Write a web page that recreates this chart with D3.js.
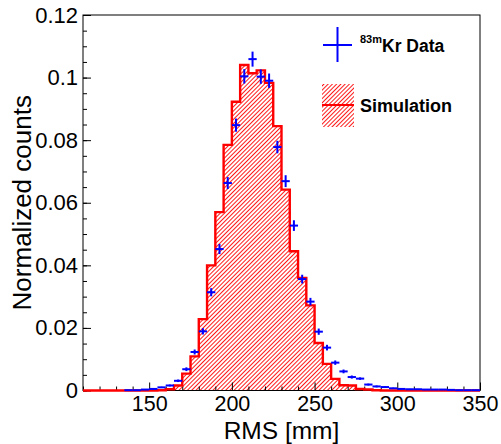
<!DOCTYPE html>
<html>
<head>
<meta charset="utf-8">
<script src="https://cdn.jsdelivr.net/npm/d3@7"></script>
<style>
body { margin: 0; background: #fff; }
text { font-family: "Liberation Sans", Arial, Helvetica, sans-serif; }
</style>
</head>
<body>
<div id="vis"></div>
<script>
// histogram binning (mm)
const binLow = 110, binWidth = 5
// simulation histogram, one value per 5 mm bin starting at 110
const simValues = [
  0, 0, 0, 0, 0, 0, 0, 0,              // 110-145
  0, 0.0001, 0.0004, 0.0016, 0.0054, 0.0109, 0.0228, 0.0400,   // 150-185
  0.0570, 0.0785, 0.0923, 0.1040, 0.1014, 0.1023, 0.0983, 0.0845, // 190-225
  0.0642, 0.0445, 0.0360, 0.0272, 0.0152, 0.0085, 0.0037, 0.0017, // 230-265
  0.0016, 0.0005, 0.0003, 0.0001, 0, 0, 0, 0,  // 270-305
  0, 0, 0, 0, 0, 0, 0, 0                // 310-345
]
// 83mKr data, same binning
const dataValues = [
  0, 0, 0, 0, 0, 0.0001, 0.0001, 0.0003,
  0.0005, 0.0010, 0.0016, 0.0031, 0.0068, 0.0123, 0.0189, 0.0314,
  0.0452, 0.0663, 0.0848, 0.1004, 0.1059, 0.1003, 0.0990, 0.0778,
  0.0669, 0.0527, 0.0356, 0.0284, 0.0188, 0.0137, 0.0089, 0.0061,
  0.0043, 0.0038, 0.0019, 0.0013, 0.0011, 0.0007, 0.0005, 0.0004,
  0.0004, 0.0003, 0.0003, 0.0003, 0.0002, 0.0001, 0.0001, 0.0001
]
const dataErrors = [
  0, 0, 0, 0, 0, 0.0001, 0.0001, 0.0001,
  0.0002, 0.0002, 0.0003, 0.0004, 0.0006, 0.0008, 0.0010, 0.0013,
  0.0016, 0.0019, 0.0021, 0.0023, 0.0024, 0.0023, 0.0023, 0.0020,
  0.0019, 0.0017, 0.0014, 0.0012, 0.0010, 0.0009, 0.0007, 0.0006,
  0.0005, 0.0004, 0.0003, 0.0003, 0.0002, 0.0002, 0.0002, 0.0001,
  0.0001, 0.0001, 0.0001, 0.0001, 0.0001, 0.0001, 0.0001, 0.0001
]
const xMajorTicks = [150, 200, 250, 300, 350]
const yMajorTicks = [0, 0.02, 0.04, 0.06, 0.08, 0.1, 0.12]
const yTickLabels = ['0', '0.02', '0.04', '0.06', '0.08', '0.1', '0.12']

const W = 501, H = 444
const frame = {left: 83, right: 480, top: 15, bottom: 390.5}
const histRed = '#ff0000', dataBlue = '#0000ff'

let svg = d3.select('#vis').append('svg')
    .attr('width', W)
    .attr('height', H)

let x = d3.scaleLinear().domain([110, 350]).range([frame.left, frame.right])
let y = d3.scaleLinear().domain([0, 0.12]).range([frame.bottom, frame.top])

// hatch pattern like ROOT fill style 3004
let defs = svg.append('defs')
let pat = defs.append('pattern')
    .attr('id', 'hatch')
    .attr('patternUnits', 'userSpaceOnUse')
    .attr('width', 3).attr('height', 3)
    .attr('patternTransform', 'rotate(45)')
pat.append('rect')
    .attr('x', 0).attr('y', 0).attr('width', 0.9).attr('height', 3)
    .style('fill', histRed)

// simulation histogram
let simPoints = simValues.map((v, i) => [binLow + i * binWidth, v])
simPoints.push([binLow + simValues.length * binWidth, simValues[simValues.length - 1]])

let area = d3.area()
    .x(d => x(d[0]))
    .y0(y(0))
    .y1(d => y(d[1]))
    .curve(d3.curveStepAfter)

svg.append('path')
    .datum(simPoints)
    .attr('d', area)
    .style('fill', 'url(#hatch)')

// axes with inward ticks
let gx = svg.append('g').attr('transform', `translate(0,${frame.bottom})`)
gx.call(d3.axisBottom(x).tickValues(d3.range(110, 351, 10).filter(v => v % 50 != 0))
    .tickSizeInner(-4).tickSizeOuter(0).tickFormat(''))
let gx2 = svg.append('g').attr('transform', `translate(0,${frame.bottom})`)
gx2.call(d3.axisBottom(x).tickValues(xMajorTicks)
    .tickSizeInner(-8).tickSizeOuter(0).tickPadding(5).tickFormat(d3.format('d')))
gx2.selectAll('text').attr('font-size', 21.5).attr('fill', '#000')

let gy = svg.append('g').attr('transform', `translate(${frame.left},0)`)
gy.call(d3.axisLeft(y).tickValues(d3.range(0, 0.1201, 0.005))
    .tickSizeInner(-4).tickSizeOuter(0).tickFormat(''))
let gy2 = svg.append('g').attr('transform', `translate(${frame.left},0)`)
gy2.call(d3.axisLeft(y).tickValues(yMajorTicks)
    .tickSizeInner(-8).tickSizeOuter(0).tickPadding(5)
    .tickFormat((d, i) => yTickLabels[i]))
gy2.selectAll('text').attr('font-size', 22).attr('fill', '#000')

svg.selectAll('.domain').remove()
svg.selectAll('.tick line').attr('stroke', '#000').attr('stroke-width', 1)

// frame
svg.append('rect')
    .attr('x', frame.left).attr('y', frame.top)
    .attr('width', frame.right - frame.left)
    .attr('height', frame.bottom - frame.top)
    .attr('fill', 'none')
    .attr('stroke', '#000')
    .attr('stroke-width', 1)

// histogram outline
let outline = d3.line()
    .x(d => x(d[0]))
    .y(d => y(d[1]))
    .curve(d3.curveStepAfter)
let outlinePts = [[110, 0]].concat(simPoints)
svg.append('path')
    .datum(outlinePts)
    .attr('d', outline)
    .attr('fill', 'none')
    .attr('stroke', histRed)
    .attr('stroke-width', 2.4)

// data points with error bars
let dataPts = dataValues.map((v, i) => ({
    c: binLow + (i + 0.5) * binWidth, v: v, e: dataErrors[i]
})).filter(d => d.v > 0)

let pts = svg.append('g').selectAll('g').data(dataPts).join('g')
pts.append('line')
    .attr('x1', d => x(d.c - binWidth / 2)).attr('x2', d => x(d.c + binWidth / 2))
    .attr('y1', d => y(d.v)).attr('y2', d => y(d.v))
    .attr('stroke', dataBlue).attr('stroke-width', 2)
pts.append('line')
    .attr('x1', d => x(d.c)).attr('x2', d => x(d.c))
    .attr('y1', d => y(d.v - d.e)).attr('y2', d => y(d.v + d.e))
    .attr('stroke', dataBlue).attr('stroke-width', 2)

// axis titles
svg.append('text')
    .attr('x', (frame.left + frame.right) / 2).attr('y', 438.5)
    .attr('text-anchor', 'middle')
    .attr('font-size', 24.5)
    .text('RMS [mm]')

svg.append('text')
    .attr('transform', `translate(31,${(frame.top + frame.bottom) / 2}) rotate(-90)`)
    .attr('text-anchor', 'middle')
    .attr('font-size', 26)
    .text('Normalized counts')

// legend
let leg = svg.append('g')
leg.append('line').attr('x1', 323).attr('x2', 352).attr('y1', 45).attr('y2', 45)
    .attr('stroke', dataBlue).attr('stroke-width', 2)
leg.append('line').attr('x1', 337.5).attr('x2', 337.5).attr('y1', 27).attr('y2', 62)
    .attr('stroke', dataBlue).attr('stroke-width', 2)
let t1 = leg.append('text').attr('x', 360).attr('y', 52)
    .attr('font-weight', 'bold').attr('font-size', 17.5)
t1.append('tspan').attr('font-size', 11).attr('dy', -9).text('83m')
t1.append('tspan').attr('dy', 9).text('Kr Data')

leg.append('rect').attr('x', 322).attr('y', 84).attr('width', 32).attr('height', 43)
    .style('fill', 'url(#hatch)')
leg.append('line').attr('x1', 322).attr('x2', 354).attr('y1', 105).attr('y2', 105)
    .attr('stroke', histRed).attr('stroke-width', 2)
leg.append('text').attr('x', 360).attr('y', 112)
    .attr('font-weight', 'bold').attr('font-size', 18)
    .text('Simulation')
</script>
</body>
</html>
